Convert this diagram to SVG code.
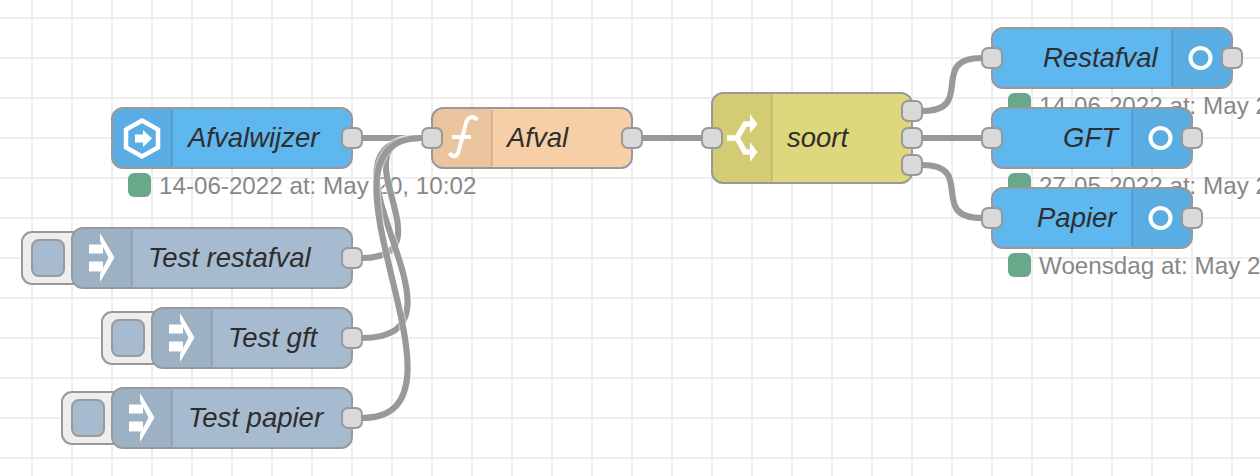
<svg xmlns="http://www.w3.org/2000/svg" width="1260" height="476" viewBox="0 0 1260 476">
<defs>
<style>
.grid{stroke:#eee;stroke-width:2;fill:none}
.n{stroke:#999;stroke-width:2}
.blue{fill:#5fb7ef}.test{fill:#a6bbcf}.func{fill:#f6cfa6}.sw{fill:#dfd77c}
.shade{fill:#000;fill-opacity:.05;stroke:none}
.div{stroke:#000;stroke-opacity:.1;stroke-width:2;fill:none}
.port{fill:#d9d9d9;stroke:#999;stroke-width:2}
.lbl{font:italic 27.5px "Liberation Sans",Arial,sans-serif;fill:#2e2e2e}
.st{font:24.2px "Liberation Sans",Arial,sans-serif;fill:#888}
.dot{fill:#6aa88b}
.ic{fill:#fff;stroke:none}
.ico{fill:none;stroke:#fff}
.wo{fill:none;stroke:#fff;stroke-opacity:.4;stroke-width:9}
.w{fill:none;stroke:#999;stroke-width:6.2}
</style>
</defs>
<rect width="1260" height="476" fill="#fff"/>
<path class="grid" d="M32 0V476M72 0V476M112 0V476M152 0V476M192 0V476M232 0V476M272 0V476M312 0V476M352 0V476M392 0V476M432 0V476M472 0V476M512 0V476M552 0V476M592 0V476M632 0V476M672 0V476M712 0V476M752 0V476M792 0V476M832 0V476M872 0V476M912 0V476M952 0V476M992 0V476M1032 0V476M1072 0V476M1112 0V476M1152 0V476M1192 0V476M1232 0V476M0 18H1260M0 58H1260M0 98H1260M0 138H1260M0 178H1260M0 218H1260M0 258H1260M0 298H1260M0 338H1260M0 378H1260M0 418H1260M0 458H1260"/>

<g id="node-afvalwijzer">
<rect class="n blue" x="112" y="108" width="240" height="60" rx="11"/>
<path class="shade" d="M172 109H123a10 10 0 0 0-10 10v38a10 10 0 0 0 10 10h49z"/>
<path class="div" d="M172 110V166"/>
<path class="ico" stroke-width="4.500" d="M142 120.500L158 129.500V147.500L142 156.500L126 147.500V129.500Z"/>
<path class="ic" d="M135 134.500H143V130L152 138.500L143 147V142.500H135Z"/>
<text class="lbl" x="188" y="147">Afvalwijzer</text>
<rect class="port" x="342" y="128" width="20" height="20" rx="6"/>
<rect class="dot" x="128" y="173" width="23" height="24" rx="6"/>
<text class="st" x="159" y="194">14-06-2022 at: May 20, 10:02</text>
</g>

<g id="node-afval">
<rect class="n func" x="432" y="108" width="200" height="60" rx="11"/>
<path class="shade" d="M492 109H443a10 10 0 0 0-10 10v38a10 10 0 0 0 10 10h49z"/>
<path class="div" d="M492 110V166"/>
<path class="ico" stroke-width="4" d="M477 120C474 116 468 115.500 466 123L459 150C457.500 157 453 158 449.500 153M452 137H471"/>
<text class="lbl" x="507" y="147">Afval</text>
<rect class="port" x="422" y="128" width="20" height="20" rx="6"/>
<rect class="port" x="622" y="128" width="20" height="20" rx="6"/>
</g>

<g id="node-test-restafval">
<rect x="22" y="232" width="60" height="52" rx="10" fill="#eee" stroke="#999" stroke-width="2"/>
<rect class="test" x="32" y="240" width="32" height="36" rx="7" stroke="#999" stroke-width="2"/>
<rect class="n test" x="72" y="228" width="280" height="60" rx="11"/>
<path class="shade" d="M132 229H83a10 10 0 0 0-10 10v38a10 10 0 0 0 10 10h49z"/>
<path class="div" d="M132 230V286"/>
<path class="ic" d="M89 244.500H103V253.500H89ZM89 261.500H103V271.500H89Z"/>
<path class="ic" d="M100 233L114.500 257.500L100 282V274L108.500 257.500L100 241Z"/>
<text class="lbl" x="148" y="267">Test restafval</text>
<rect class="port" x="342" y="248" width="20" height="20" rx="6"/>
</g>

<g id="node-test-gft">
<rect x="102" y="312" width="60" height="52" rx="10" fill="#eee" stroke="#999" stroke-width="2"/>
<rect class="test" x="112" y="320" width="32" height="36" rx="7" stroke="#999" stroke-width="2"/>
<rect class="n test" x="152" y="308" width="200" height="60" rx="11"/>
<path class="shade" d="M212 309H163a10 10 0 0 0-10 10v38a10 10 0 0 0 10 10h49z"/>
<path class="div" d="M212 310V366"/>
<path class="ic" d="M169 324.500H183V333.500H169ZM169 341.500H183V351.500H169Z"/>
<path class="ic" d="M180 313L194.500 337.500L180 362V354L188.500 337.500L180 321Z"/>
<text class="lbl" x="228" y="347">Test gft</text>
<rect class="port" x="342" y="328" width="20" height="20" rx="6"/>
</g>

<g id="node-test-papier">
<rect x="62" y="392" width="60" height="52" rx="10" fill="#eee" stroke="#999" stroke-width="2"/>
<rect class="test" x="72" y="400" width="32" height="36" rx="7" stroke="#999" stroke-width="2"/>
<rect class="n test" x="112" y="388" width="240" height="60" rx="11"/>
<path class="shade" d="M172 389H123a10 10 0 0 0-10 10v38a10 10 0 0 0 10 10h49z"/>
<path class="div" d="M172 390V446"/>
<path class="ic" d="M129 404.500H143V413.500H129ZM129 421.500H143V431.500H129Z"/>
<path class="ic" d="M140 393L154.500 417.500L140 442V434L148.500 417.500L140 401Z"/>
<text class="lbl" x="188" y="427">Test papier</text>
<rect class="port" x="342" y="408" width="20" height="20" rx="6"/>
</g>

<g id="node-soort">
<rect class="n sw" x="712" y="93" width="200" height="90" rx="11"/>
<path class="shade" d="M772 94H723a10 10 0 0 0-10 10v68a10 10 0 0 0 10 10h49z"/>
<path class="div" d="M772 95V181"/>
<path class="ico" stroke-width="5.500" d="M727 138H737L745 124H752M737 138L745 152H752"/>
<path class="ic" d="M750 114L757.500 124L750 133ZM750 142L757.500 152L750 162Z"/>
<text class="lbl" x="787" y="147">soort</text>
<rect class="port" x="702" y="128" width="20" height="20" rx="6"/>
<rect class="port" x="902" y="101" width="20" height="20" rx="6"/>
<rect class="port" x="902" y="128" width="20" height="20" rx="6"/>
<rect class="port" x="902" y="155" width="20" height="20" rx="6"/>
</g>

<g id="node-restafval">
<rect class="dot" x="1008" y="93" width="23" height="24" rx="6"/>
<text class="st" x="1039" y="114">14-06-2022 at: May 2</text>
<rect class="n blue" x="992" y="28" width="240" height="60" rx="11"/>
<path class="shade" d="M1172 29H1221a10 10 0 0 1 10 10v38a10 10 0 0 1-10 10h-49z"/>
<path class="div" d="M1172 30V86"/>
<circle class="ico" stroke-width="4" cx="1200.500" cy="58" r="10"/>
<text class="lbl" x="1043" y="67">Restafval</text>
<rect class="port" x="982" y="48" width="20" height="20" rx="6"/>
<rect class="port" x="1222" y="48" width="20" height="20" rx="6"/>
</g>

<g id="node-gft">
<rect class="dot" x="1008" y="173" width="23" height="24" rx="6"/>
<text class="st" x="1039" y="194">27-05-2022 at: May 2</text>
<rect class="n blue" x="992" y="108" width="200" height="60" rx="11"/>
<path class="shade" d="M1132 109H1181a10 10 0 0 1 10 10v38a10 10 0 0 1-10 10h-49z"/>
<path class="div" d="M1132 110V166"/>
<circle class="ico" stroke-width="4" cx="1160.500" cy="138" r="10"/>
<text class="lbl" x="1063" y="147">GFT</text>
<rect class="port" x="982" y="128" width="20" height="20" rx="6"/>
<rect class="port" x="1182" y="128" width="20" height="20" rx="6"/>
</g>

<g id="node-papier">
<rect class="n blue" x="992" y="188" width="200" height="60" rx="11"/>
<path class="shade" d="M1132 189H1181a10 10 0 0 1 10 10v38a10 10 0 0 1-10 10h-49z"/>
<path class="div" d="M1132 190V246"/>
<circle class="ico" stroke-width="4" cx="1160.500" cy="218" r="10"/>
<text class="lbl" x="1037" y="227">Papier</text>
<rect class="port" x="982" y="208" width="20" height="20" rx="6"/>
<rect class="port" x="1182" y="208" width="20" height="20" rx="6"/>
<rect class="dot" x="1008" y="253" width="23" height="24" rx="6"/>
<text class="st" x="1039" y="274">Woensdag at: May 20</text>
</g>

<g id="connectors">
<path class="w" d="M362 138H422"/>
<path class="wo" d="M362 258C454 258 330 138 422 138"/>
<path class="w" d="M362 258C454 258 330 138 422 138"/>
<path class="wo" d="M362 338C490 338 294 138 422 138"/>
<path class="w" d="M362 338C490 338 294 138 422 138"/>
<path class="wo" d="M362 418C490 418 294 138 422 138"/>
<path class="w" d="M362 418C490 418 294 138 422 138"/>
<path class="w" d="M642 138H702"/>
<path class="w" d="M922 111C977 111 927 58 982 58"/>
<path class="w" d="M922 138H982"/>
<path class="w" d="M922 165C977 165 927 218 982 218"/>
</g>
</svg>
